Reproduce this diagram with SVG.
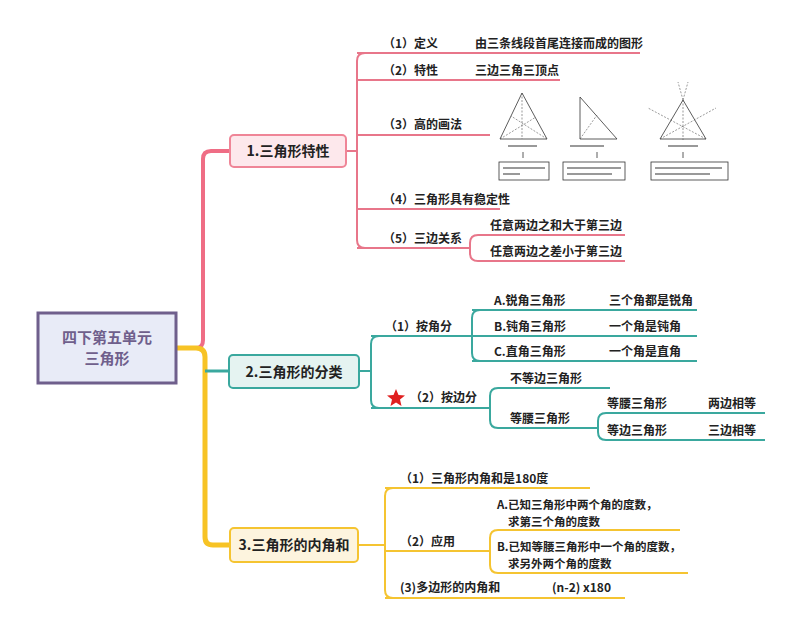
<svg xmlns="http://www.w3.org/2000/svg" width="800" height="633" viewBox="0 0 800 633">
<style>
text{font-family:"Noto Sans CJK SC","Liberation Sans",sans-serif;font-size:12px;fill:#222;font-weight:bold}
.b{font-size:14px}
.s{font-size:11.5px}
.p{fill:none;stroke:#e8768a;stroke-width:2}
.t{fill:none;stroke:#3aa89e;stroke-width:2}
.y{fill:none;stroke:#f5c431;stroke-width:2}
.g{fill:none;stroke:#333;stroke-width:0.8}
.d{fill:none;stroke:#555;stroke-width:0.6;stroke-dasharray:2 1.5}
</style>
<rect width="800" height="633" fill="#fff"/>
<g id="connectors">
<path d="M176 348 H196 Q203 348 203 340 V159 Q203 151 211 151 H230" fill="none" stroke="#ef6d85" stroke-width="4"/>
<path d="M176 348 H196 Q205 348 205 357 V537 Q205 545 213 545 H230" fill="none" stroke="#f7c325" stroke-width="5"/>
<path d="M205 371 H229" fill="none" stroke="#3aa89e" stroke-width="3"/>
<path class="p" d="M346 151 H357 M365 53 Q357 53 357 61 V240 Q357 248 365 248 M357 53 H640 M357 80 H560 M357 135 H490 M357 209 H500 M357 248 H470 M470 248 V243 Q470 235 478 235 H625 M470 248 V253 Q470 261 478 261 H625"/>
<path class="t" d="M359 371 H371 M379 336 Q371 336 371 344 V400 Q371 408 379 408 M371 336 H472 M371 408 H490 M480 310 Q472 310 472 318 V353 Q472 361 480 361 M472 310 H697 M472 336 H697 M472 361 H697 M490 408 V396 Q490 388 498 388 H610 M490 408 V420 Q490 428 498 428 H598 M598 428 V421 Q598 413 606 413 H765 M598 428 V432 Q598 440 606 440 H765"/>
<path class="y" d="M358 545 H385 M393 488 Q385 488 385 496 V590 Q385 598 393 598 M385 488 H590 M385 551 H490 M490 551 V538 Q490 530 498 530 H680 M490 551 V565 Q490 573 498 573 H688 M385 598 H625"/>
</g>
<g id="root"><rect x="38" y="313" width="138" height="70" fill="#e8ebf7" stroke="#6f5f8c" stroke-width="3"/>
<text x="107" y="343" text-anchor="middle" class="b" style="fill:#6f5f8c;font-size:15px">四下第五单元</text>
<text x="107" y="364" text-anchor="middle" class="b" style="fill:#6f5f8c;font-size:15px">三角形</text></g>
<g id="n1"><rect x="230" y="135" width="116" height="32" rx="4" fill="#fde8ec" stroke="#ef8597" stroke-width="2"/><text x="288" y="156" text-anchor="middle" class="b">1.三角形特性</text></g>
<g id="n2"><rect x="229" y="355" width="130" height="33" rx="4" fill="#e5f3f1" stroke="#3aa89e" stroke-width="2"/><text x="294" y="377" text-anchor="middle" class="b">2.三角形的分类</text></g>
<g id="n3"><rect x="230" y="528" width="128" height="34" rx="4" fill="#fdf4de" stroke="#f5c431" stroke-width="2"/><text x="294" y="550" text-anchor="middle" class="b">3.三角形的内角和</text></g>
<g id="n1c">
<text x="383" y="48">（1）定义</text><text x="475" y="48">由三条线段首尾连接而成的图形</text>
<text x="383" y="75">（2）特性</text><text x="475" y="75">三边三角三顶点</text>
<text x="383" y="129">（3）高的画法</text>
<text x="383" y="204">（4）三角形具有稳定性</text>
<text x="383" y="243">（5）三边关系</text>
<text x="490" y="230">任意两边之和大于第三边</text>
<text x="490" y="256">任意两边之差小于第三边</text>
</g>
<g id="images">
<path class="g" d="M522 93 L500 139 L547 139 Z"/><path class="d" d="M522 93 V139 M500 139 L536 117 M547 139 L511 116"/>
<path class="g" d="M580 97 V139 L617 139 Z"/><path class="d" d="M580 139 L597 115"/>
<path class="g" d="M683 100 L660 139 L706 139 Z"/><path class="d" d="M683 100 L678 82 M683 100 L688 82 M660 139 L716 108 M706 139 L648 108 M683 100 V140"/>
<path class="g" d="M523 152 V158 M597 152 V158 M683 152 V158"/>
<rect x="499" y="162" width="50" height="18" class="g"/><rect x="563" y="162" width="62" height="18" class="g"/><rect x="651" y="162" width="77" height="18" class="g"/>
<path d="M503 168 H545 M503 174 H520 M567 168 H621 M567 174 H612 M655 168 H722 M655 174 H710" stroke="#999" stroke-width="2"/>
<path d="M508 146 H537 M570 146 H604 M668 146 H698" stroke="#999" stroke-width="2"/>
</g>
<g id="n2c">
<text x="385" y="331">（1）按角分</text>
<text x="494" y="305">A.锐角三角形</text><text x="609" y="305">三个角都是锐角</text>
<text x="494" y="331">B.钝角三角形</text><text x="609" y="331">一个角是钝角</text>
<text x="494" y="356">C.直角三角形</text><text x="609" y="356">一个角是直角</text>
<polygon points="396,389 398.5,395 405,395.5 400,399.5 401.5,406 396,402.5 390.5,406 392,399.5 387,395.5 393.5,395" fill="#e02020"/>
<text x="410" y="402">（2）按边分</text>
<text x="510" y="383">不等边三角形</text>
<text x="510" y="423">等腰三角形</text>
<text x="607" y="408">等腰三角形</text><text x="708" y="408">两边相等</text>
<text x="607" y="435">等边三角形</text><text x="708" y="435">三边相等</text>
</g>
<g id="n3c">
<text x="400" y="483">（1）三角形内角和是180度</text>
<text x="400" y="546">（2）应用</text>
<text x="497" y="509" class="s">A.已知三角形中两个角的度数，</text><text x="508" y="526" class="s">求第三个角的度数</text>
<text x="497" y="551" class="s">B.已知等腰三角形中一个角的度数，</text><text x="508" y="568" class="s">求另外两个角的度数</text>
<text x="400" y="592">(3)多边形的内角和</text><text x="552" y="592">(n-2) x180</text>
</g>
</svg>
